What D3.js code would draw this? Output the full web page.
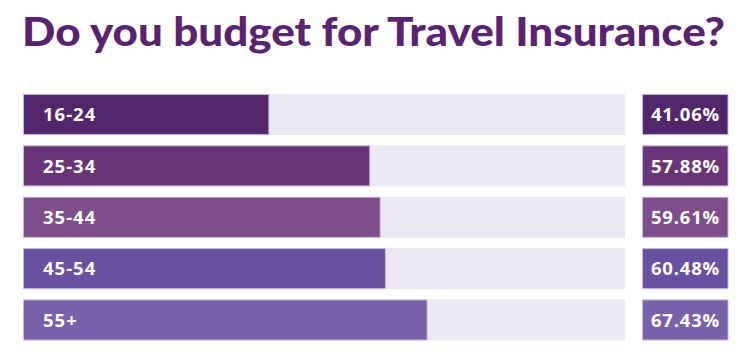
<!DOCTYPE html>
<html><head><meta charset="utf-8">
<script src="https://cdn.jsdelivr.net/npm/d3@7"></script>
<style>body{margin:0;background:#fff}svg{display:block}</style>
</head><body>
<svg id="c" width="752" height="359"></svg>
<script>
const title = "Do you budget for Travel Insurance?";
const categories = ["16-24","25-34","35-44","45-54","55+"];
const values = [41.06,57.88,59.61,60.48,67.43];
const valueLabels = ["41.06%","57.88%","59.61%","60.48%","67.43%"];
const colors = ["#52266B","#6A3578","#7E4E8A","#6950A1","#7861A8"];

const svg = d3.select("#c");
const x = d3.scaleLinear().domain([0,100]).range([23,623]);
const y = d3.scaleBand().domain(categories).range([94,340.5]).paddingInner(0.2).paddingOuter(0);

svg.append("text").attr("x",22).attr("y",46)
  .attr("font-family","Lato, 'Open Sans', sans-serif").attr("font-weight","900")
  .attr("font-size",39).attr("fill","#5A2370").text(title)
  .attr("textLength",703).attr("lengthAdjust","spacingAndGlyphs");

const lblFont = "'Open Sans', sans-serif";
const g = svg.append("g");
const rows = g.selectAll("g.row").data(categories).join("g").attr("class","row");
rows.append("rect").attr("x",x(0)).attr("y",d=>y(d)).attr("width",x(100)+2-x(0)).attr("height",y.bandwidth())
  .attr("fill","#ECE9F5");
rows.append("rect").attr("x",x(0)+0.5).attr("y",d=>y(d)+0.5)
  .attr("width",(d,i)=>x(values[i])-x(0)-1).attr("height",y.bandwidth()-1)
  .attr("fill",(d,i)=>colors[i]).attr("stroke","#C7B8DA").attr("stroke-width",1);
rows.append("text").attr("x",43).attr("y",d=>y(d)+y.bandwidth()/2).attr("dy","0.36em")
  .attr("font-family",lblFont).attr("font-weight","bold").attr("font-size",18.5)
  .attr("letter-spacing",1)
  .attr("fill","#fff").text(d=>d);
rows.append("rect").attr("x",642.5).attr("y",d=>y(d)+0.5).attr("width",85.5).attr("height",y.bandwidth()-1)
  .attr("fill",(d,i)=>colors[i]).attr("stroke","#C7B8DA").attr("stroke-width",1);
rows.append("text").attr("x",685.5).attr("y",d=>y(d)+y.bandwidth()/2).attr("dy","0.36em")
  .attr("text-anchor","middle")
  .attr("font-family",lblFont).attr("font-weight","bold").attr("font-size",18.5)
  .attr("letter-spacing",0.8)
  .attr("fill","#fff").text((d,i)=>valueLabels[i]);
</script>
</body></html>
